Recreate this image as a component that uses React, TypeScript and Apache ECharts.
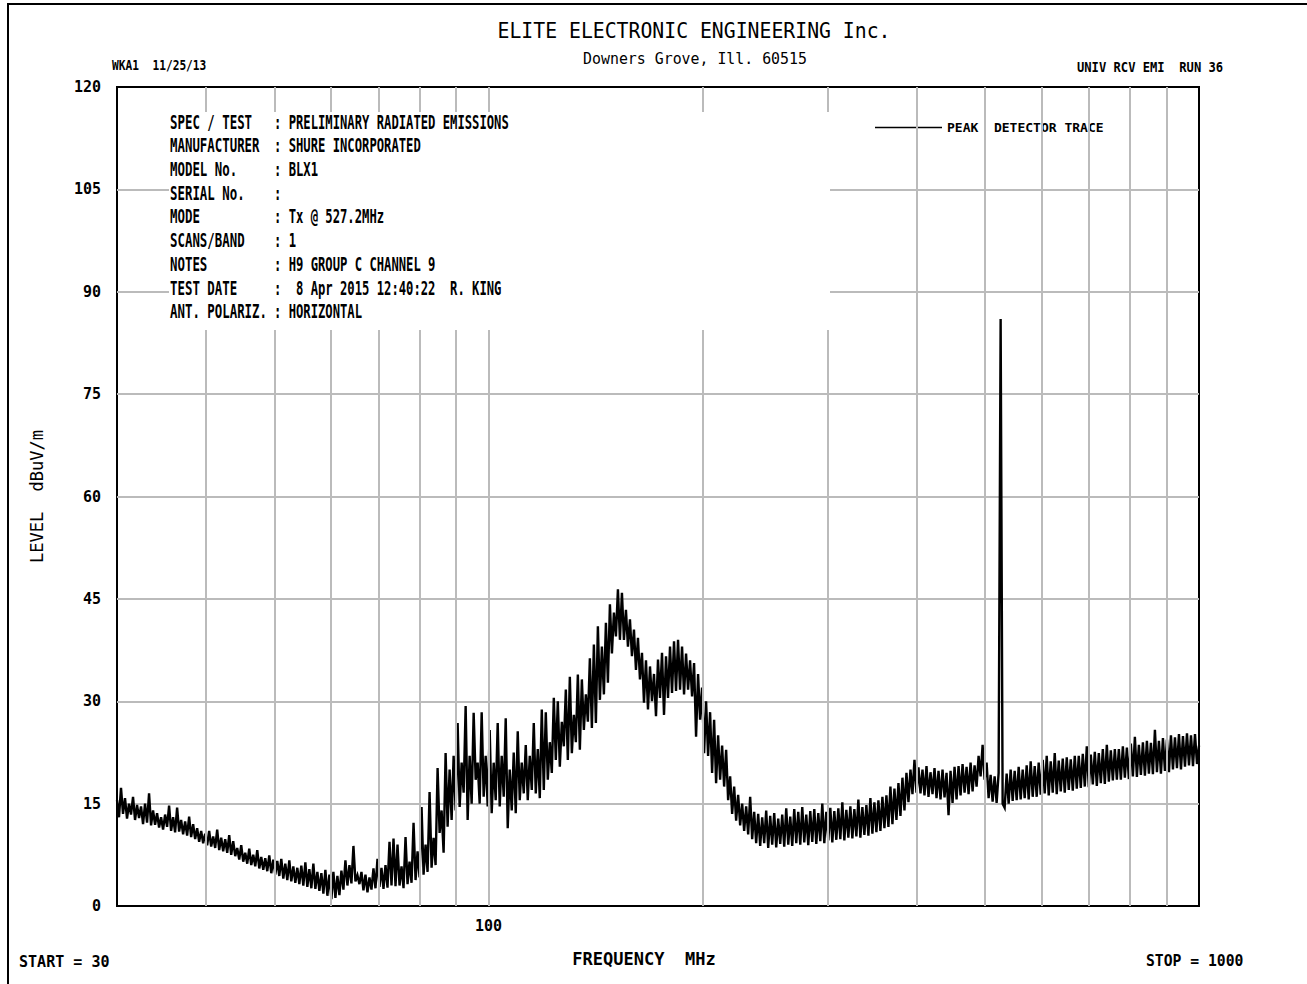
import React, { useEffect, useRef } from "react";
import * as echarts from "echarts";

// ---- data ----
const sweepStartMHz = 30;
const sweepStopMHz = 1000;
const traceName = "PEAK  DETECTOR TRACE";

// peak detector levels (dBuV/m) at successive sweep points, 30 -> 1000 MHz (log sweep)
const peakLevels = [
  15.5, 13, 17.3, 13.5, 15.8, 12.8, 15, 13.4, 16, 12.6, 14.8, 12.9, 14.6, 12, 15, 12.2, 16.5, 11.8, 14, 11.9,
  13.6, 11.5, 13, 11.2, 13.4, 11.6, 14.7, 11, 13, 10.8, 14.4, 10.9, 12.6, 10.5, 12.4, 10.3, 13.1, 10.1, 12, 9.8,
  11.4, 9.4, 11, 9.2, 10.6, 8.9, 11, 8.7, 10.2, 8.5, 11.2, 8.2, 10, 8, 9.8, 7.8, 10.4, 7.5, 9.5, 7.3,
  8.5, 6.8, 8.9, 6.5, 7.8, 6.2, 8.4, 6, 7.5, 5.8, 8.2, 5.5, 7.2, 5.3, 7, 5.1, 7.4, 4.8, 6.8, 4.6,
  6.6, 4.4, 6.9, 4, 6.2, 3.8, 6.7, 3.6, 5.8, 3.4, 5.6, 3.2, 5.9, 3, 6.4, 2.8, 5.4, 2.6, 6.2, 2.5,
  5, 2.2, 4.8, 1.8, 5.3, 1.5, 4.6, 1, 5, 1.2, 4.4, 1.6, 5.2, 2.4, 6.7, 3, 6, 3.3, 8.8, 3.6,
  4.5, 3.2, 5, 2.3, 4.6, 2, 4.2, 2.4, 5.5, 2.6, 6.9, 2.8, 5.6, 2.5, 6, 2.7, 9.4, 3, 9.9, 2.9,
  9, 3, 5.8, 2.6, 10.1, 3.2, 6.5, 3.4, 12.2, 3.8, 8, 4.2, 14.5, 4.6, 9, 5, 16.7, 5.6, 10, 6,
  20.2, 10.7, 14, 7.8, 22.4, 11.6, 20, 12.6, 22, 14, 26.8, 14.5, 21, 16.6, 29.3, 12.6, 22, 15, 28.3, 18.5,
  21, 15, 28.4, 16, 22, 14.6, 25.8, 13.6, 21, 15.5, 26.8, 14.6, 22, 16, 27.5, 11.4, 20, 14, 22.5, 13.6,
  25.6, 15.5, 21, 16.5, 23.6, 15.5, 22, 17, 26.8, 16.5, 23, 15.8, 28.8, 17, 28.4, 18.5, 24, 19.5, 30.5, 21.4,
  30, 20.4, 27, 23.4, 31.7, 21.4, 33.6, 22.4, 28, 24, 33.9, 22.9, 33.2, 25.8, 31, 27, 36.3, 26.1, 38.3, 26.8,
  41, 30.2, 38, 31, 41.5, 32.7, 44.2, 37, 43, 39.5, 46.4, 39, 45.9, 39, 43.4, 38, 42, 36.6, 40.5, 34.6,
  39.3, 33.2, 37.1, 29.8, 36, 28.8, 35.1, 30, 34, 27.8, 36.1, 30.5, 37.1, 28, 36.6, 30.5, 38, 31.2, 38.8, 31.5,
  39, 31.7, 38, 31, 37, 31.7, 36, 30.7, 35.6, 24.8, 34, 27.3, 32, 22.4, 30, 22, 28.4, 19.5, 27.3, 18,
  25, 18.5, 23.5, 17.5, 22.9, 15.5, 19, 13.5, 17.5, 12.5, 16.3, 11.8, 15, 11, 14.6, 10.5, 16, 9.8, 13.8, 9.2,
  13.5, 8.8, 13, 9.2, 14, 8.5, 13.2, 9, 13.6, 8.6, 12.8, 9.1, 13.4, 8.7, 14.3, 9, 13.1, 8.8, 14.2, 9.2,
  13.8, 9, 14.5, 9.3, 13.4, 8.9, 13.9, 9.4, 14.2, 9.1, 13.6, 9.5, 15, 9.2, 13.8, 9.6, 14.4, 9.3, 13.9, 9.7,
  14.3, 9.8, 15.2, 9.6, 14.1, 10, 14.6, 9.9, 14.2, 10.2, 15.6, 10, 14.5, 10.4, 14.8, 10.3, 15.8, 10.6, 15.2, 10.8,
  15.5, 11, 16, 11.4, 16.2, 11.6, 17.5, 12, 17.2, 12.6, 18, 13.2, 18.8, 14, 19.5, 15.2, 20, 16.4, 21.4, 16.6,
  20.3, 16.5, 20, 16.2, 20.5, 16, 19.6, 16.4, 20.2, 15.8, 19.8, 15.6, 20, 15.9, 19.5, 13.3, 19.8, 15.1, 20.4, 15.6,
  20.5, 16.2, 20.8, 16.6, 20.4, 16.4, 21, 16.8, 20.6, 17.5, 22, 19, 23.6, 18.5, 21, 15.8, 19.2, 15.3, 19, 15.1,
  19.5, 86, 15, 14.4, 19.4, 15, 20, 15.4, 19.8, 15.5, 20.4, 15.6, 20, 15.8, 20.6, 15.6, 21.2, 16, 20.5, 16,
  21, 16.3, 21.4, 16.5, 22, 16.2, 21.2, 16.6, 22.4, 16.4, 21.3, 16.8, 21.6, 16.6, 21.8, 17, 21.5, 16.9, 22, 17.2,
  22, 17.3, 22.3, 17.5, 23.4, 17.4, 22.2, 17.8, 22.6, 17.6, 22.4, 18, 23, 17.9, 23.6, 18.2, 22.8, 18.4, 23, 18.5,
  23, 18.5, 23.4, 18.8, 23.2, 18.6, 23.8, 19, 24.8, 18.9, 23.6, 19.2, 24, 19.1, 24.2, 19.4, 23.9, 19.3, 25.8, 19.6,
  24.2, 19.4, 24.6, 19.8, 24.4, 19.6, 25, 20, 24.7, 20.2, 25.2, 20, 24.9, 20.4, 25.3, 20.6, 25, 20.5, 25.2, 20.8,
  23.5,
];

const levelMin = 0;
const levelMax = 120;
const levelStep = 15;
const gridFreqsMHz = [40, 50, 60, 70, 80, 90, 100, 200, 300, 400, 500, 600, 700, 800, 900];
const labelledFreqsMHz = [100];

const infoLabels = [
  "SPEC / TEST",
  "MANUFACTURER",
  "MODEL No.",
  "SERIAL No.",
  "MODE",
  "SCANS/BAND",
  "NOTES",
  "TEST DATE",
  "ANT. POLARIZ.",
];
const infoValues = [
  ": PRELIMINARY RADIATED EMISSIONS",
  ": SHURE INCORPORATED",
  ": BLX1",
  ":",
  ": Tx @ 527.2MHz",
  ": 1",
  ": H9 GROUP C CHANNEL 9",
  ":  8 Apr 2015 12:40:22  R. KING",
  ": HORIZONTAL",
];

const titleText = "ELITE ELECTRONIC ENGINEERING Inc.";
const subtitleText = "Downers Grove, Ill. 60515";
const leftHeader = "WKA1  11/25/13";
const rightHeader = "UNIV RCV EMI  RUN 36";
const startText = "START = 30";
const stopText = "STOP = 1000";
const xName = "FREQUENCY  MHz";
const yName = "LEVEL  dBuV/m";

const MONO = "'DejaVu Sans Mono', 'Liberation Mono', monospace";

function txt(
  text: string,
  x: number,
  y: number,
  size: number,
  weight: string,
  sx: number,
  align: string = "left"
) {
  return {
    type: "text",
    x,
    y,
    scaleX: sx,
    z: 60,
    silent: true,
    style: {
      text,
      fill: "#000",
      fontFamily: MONO,
      fontSize: size,
      fontWeight: weight,
      textAlign: align,
      textVerticalAlign: "middle",
    },
  };
}

export default function App() {
  const ref = useRef<HTMLDivElement>(null);

  useEffect(() => {
    if (!ref.current) return;
    const chart = echarts.init(ref.current, undefined, { renderer: "svg" });

    const n = peakLevels.length;
    const ratio = sweepStopMHz / sweepStartMHz;
    const traceData = peakLevels.map((lv, i) => [
      sweepStartMHz * Math.pow(ratio, i / (n - 1)),
      lv,
    ]);

    const graphics: any[] = [
      {
        type: "polyline",
        z: 70,
        silent: true,
        shape: { points: [[8, 984], [8, 4], [1307, 4]] },
        style: { stroke: "#000", lineWidth: 2, fill: "none" },
      },
      {
        type: "rect",
        z: 50,
        silent: true,
        shape: { x: 169, y: 112, width: 661, height: 218 },
        style: { fill: "#fff" },
      },
      txt(titleText, 694, 31, 22, "normal", 0.9, "center"),
      txt(subtitleText, 695, 59, 16, "normal", 0.93, "center"),
      txt(leftHeader, 112, 65, 13.5, "bold", 0.83),
      txt(rightHeader, 1077, 67, 13.5, "bold", 0.9),
      txt(startText, 19, 962, 16, "bold", 0.94),
      txt(stopText, 1146, 961, 16, "bold", 0.92),
    ];
    infoLabels.forEach((lab, k) => {
      const y = 122 + 23.7 * k;
      graphics.push(txt(lab, 170, y, 20, "bold", 0.62));
      graphics.push(txt(infoValues[k], 274, y, 20, "bold", 0.61));
    });

    chart.setOption({
      animation: false,
      backgroundColor: "#fff",
      grid: {
        left: 117,
        right: 108,
        top: 87,
        bottom: 78,
        show: true,
        borderColor: "#000",
        borderWidth: 2,
        backgroundColor: "transparent",
      },
      legend: {
        show: true,
        data: [traceName],
        left: 875,
        top: 121,
        padding: 0,
        icon: "rect",
        itemWidth: 67,
        itemHeight: 1.5,
        selectedMode: false,
        textStyle: { fontFamily: MONO, fontSize: 13, fontWeight: "bold", color: "#000" },
      },
      xAxis: {
        type: "log",
        logBase: 10,
        min: sweepStartMHz,
        max: sweepStopMHz,
        name: xName,
        nameLocation: "middle",
        nameGap: 44,
        nameTextStyle: {
          fontFamily: MONO,
          fontSize: 17,
          fontWeight: "bold",
          color: "#000",
          padding: [0, 28, 0, 0],
        },
        axisLine: { show: false },
        axisTick: { show: false },
        splitLine: { show: false },
        axisLabel: {
          margin: 12,
          fontFamily: MONO,
          fontSize: 15,
          fontWeight: "bold",
          color: "#000",
          formatter: (v: number) =>
            labelledFreqsMHz.some((f) => Math.abs(f - v) < 1e-6 * f) ? String(Math.round(v)) : "",
        },
      },
      yAxis: {
        type: "value",
        min: levelMin,
        max: levelMax,
        interval: levelStep,
        name: yName,
        nameLocation: "middle",
        nameGap: 72,
        nameRotate: 90,
        nameTextStyle: { fontFamily: MONO, fontSize: 17, color: "#000" },
        axisLine: { show: false },
        axisTick: { show: false },
        axisLabel: {
          margin: 16,
          fontFamily: MONO,
          fontSize: 15,
          fontWeight: "bold",
          color: "#000",
        },
        splitLine: {
          show: true,
          showMinLine: false,
          showMaxLine: false,
          lineStyle: { color: "#bbbbbb", width: 2 },
        },
      },
      graphic: graphics,
      series: [
        {
          type: "line",
          name: "grid",
          data: [],
          z: 1,
          silent: true,
          markLine: {
            silent: true,
            symbol: ["none", "none"],
            label: { show: false },
            lineStyle: { color: "#bbbbbb", width: 2, type: "solid" },
            data: gridFreqsMHz.map((f) => ({ xAxis: f })),
          },
        },
        {
          type: "line",
          name: traceName,
          data: traceData,
          z: 3,
          symbol: "none",
          showSymbol: false,
          silent: true,
          lineStyle: { color: "#000", width: 2.4, join: "miter" },
          itemStyle: { color: "#000" },
        },
      ],
    });

    return () => chart.dispose();
  }, []);

  return (
    <div
      ref={ref}
      style={{ position: "fixed", left: 0, top: 0, width: 1307, height: 984, background: "#fff" }}
    />
  );
}
